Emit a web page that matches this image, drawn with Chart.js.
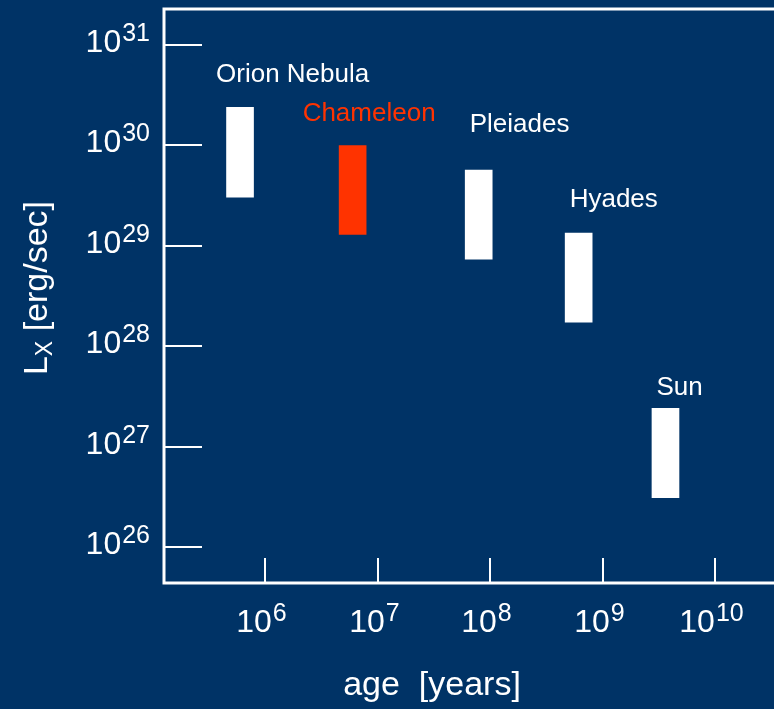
<!DOCTYPE html>
<html>
<head>
<meta charset="utf-8">
<script src="https://cdn.jsdelivr.net/npm/chart.js@4.4.1/dist/chart.umd.min.js"></script>
<style>
html, body { margin: 0; padding: 0; background: #003366; }
</style>
</head>
<body>
<canvas id="grafica" width="774" height="709"></canvas>
<script>
// datos
var clusters = ['Orion Nebula', 'Chameleon', 'Pleiades', 'Hyades', 'Sun'];
var ages = [6.0e5, 6.0e6, 7.9e7, 6.1e8, 3.6e9];          // years
var lxLow = [3.05e29, 1.3e29, 7.35e28, 1.73e28, 3.1e26]; // erg/sec
var lxHigh = [2.4e30, 1.0e30, 5.7e29, 1.34e29, 2.4e27];
var xTicks = [1e6, 1e7, 1e8, 1e9, 1e10];
var yTicks = [1e26, 1e27, 1e28, 1e29, 1e30, 1e31];

var fondo = '#003366';
var colores = ['#ffffff', '#ff3300', '#ffffff', '#ffffff', '#ffffff'];
// desplazamiento de cada rotulo respecto al centro / tope de la barra
var offsRotulos = [[-24, -25], [-50, -24], [-9, -38], [-9, -26], [-9, -13]];
var fuente = '"Liberation Sans", Arial, sans-serif';

function potencia(ctx, v, x, y, base, sup, align) {
  var e = Math.round(Math.log10(v));
  ctx.font = base + 'px ' + fuente;
  var w1 = ctx.measureText('10').width;
  ctx.font = sup + 'px ' + fuente;
  var w2 = ctx.measureText(String(e)).width;
  var x0 = align === 'right' ? x - w1 - w2 : x - (w1 + w2) / 2;
  ctx.textAlign = 'left';
  ctx.textBaseline = 'alphabetic';
  ctx.font = base + 'px ' + fuente;
  ctx.fillText('10', x0, y);
  ctx.font = sup + 'px ' + fuente;
  ctx.fillText(String(e), x0 + w1 + 1, y - 11);
}

var dibujo = {
  id: 'dibujo',
  beforeDraw: function (chart) {
    var ctx = chart.ctx;
    ctx.save();
    ctx.fillStyle = fondo;
    ctx.fillRect(0, 0, chart.width, chart.height);
    ctx.restore();
  },
  afterDatasetsDraw: function (chart) {
    var ctx = chart.ctx;
    var a = chart.chartArea;
    var sx = chart.scales.x, sy = chart.scales.y;
    ctx.save();
    ctx.strokeStyle = '#ffffff';
    ctx.fillStyle = '#ffffff';
    // marco
    ctx.lineWidth = 3;
    ctx.beginPath();
    ctx.moveTo(chart.width, a.top);
    ctx.lineTo(a.left, a.top);
    ctx.lineTo(a.left, a.bottom);
    ctx.lineTo(chart.width, a.bottom);
    ctx.stroke();
    // marcas eje y
    ctx.lineWidth = 2;
    yTicks.forEach(function (t) {
      var py = Math.round(sy.getPixelForValue(t));
      ctx.beginPath();
      ctx.moveTo(a.left, py);
      ctx.lineTo(a.left + 38, py);
      ctx.stroke();
      potencia(ctx, t, 149, py + 7, 32, 25, 'right');
    });
    // marcas eje x
    xTicks.forEach(function (t) {
      var px = Math.round(sx.getPixelForValue(t));
      ctx.beginPath();
      ctx.moveTo(px, a.bottom);
      ctx.lineTo(px, a.bottom - 25);
      ctx.stroke();
      potencia(ctx, t, px - 4, 632, 32, 25, 'center');
    });
    // titulos
    ctx.font = '34px ' + fuente;
    ctx.textAlign = 'center';
    ctx.fillText('age  [years]', 432, 695);

    ctx.save();
    ctx.translate(47, 288);
    ctx.rotate(-Math.PI / 2);
    ctx.textAlign = 'left';
    ctx.font = '34px ' + fuente;
    var wL = ctx.measureText('L').width;
    var wR = ctx.measureText(' [erg/sec]').width;
    ctx.font = '23px ' + fuente;
    var wX = ctx.measureText('X').width;
    var x0 = -(wL + wX + wR) / 2;
    ctx.font = '34px ' + fuente;
    ctx.fillText('L', x0, 0);
    ctx.font = '23px ' + fuente;
    ctx.fillText('X', x0 + wL, 5);
    ctx.font = '34px ' + fuente;
    ctx.fillText(' [erg/sec]', x0 + wL + wX, 0);
    ctx.restore();

    // rotulos de cada cumulo
    ctx.font = '26px ' + fuente;
    ctx.textAlign = 'left';
    clusters.forEach(function (c, i) {
      var px = sx.getPixelForValue(ages[i]);
      var py = sy.getPixelForValue(lxHigh[i]);
      ctx.fillStyle = colores[i];
      ctx.fillText(c, px + offsRotulos[i][0], py + offsRotulos[i][1]);
    });
    ctx.restore();
  }
};

var grafica = new Chart(document.getElementById('grafica').getContext('2d'), {
  type: 'bar',
  data: {
    datasets: [{
      label: 'Lx',
      data: ages.map(function (a, i) { return { x: a, y: [lxLow[i], lxHigh[i]] }; }),
      backgroundColor: colores,
      borderWidth: 0,
      barThickness: 27
    }]
  },
  options: {
    responsive: false,
    animation: false,
    devicePixelRatio: 1,
    layout: { padding: { left: 164, top: 9, right: 0, bottom: 126 } },
    scales: {
      x: { type: 'logarithmic', min: Math.pow(10, 5.103), max: Math.pow(10, 10.52), display: false },
      y: { type: 'logarithmic', min: Math.pow(10, 25.64), max: Math.pow(10, 31.36), display: false }
    },
    plugins: { legend: { display: false }, tooltip: { enabled: false } }
  },
  plugins: [dibujo]
});
</script>
</body>
</html>
